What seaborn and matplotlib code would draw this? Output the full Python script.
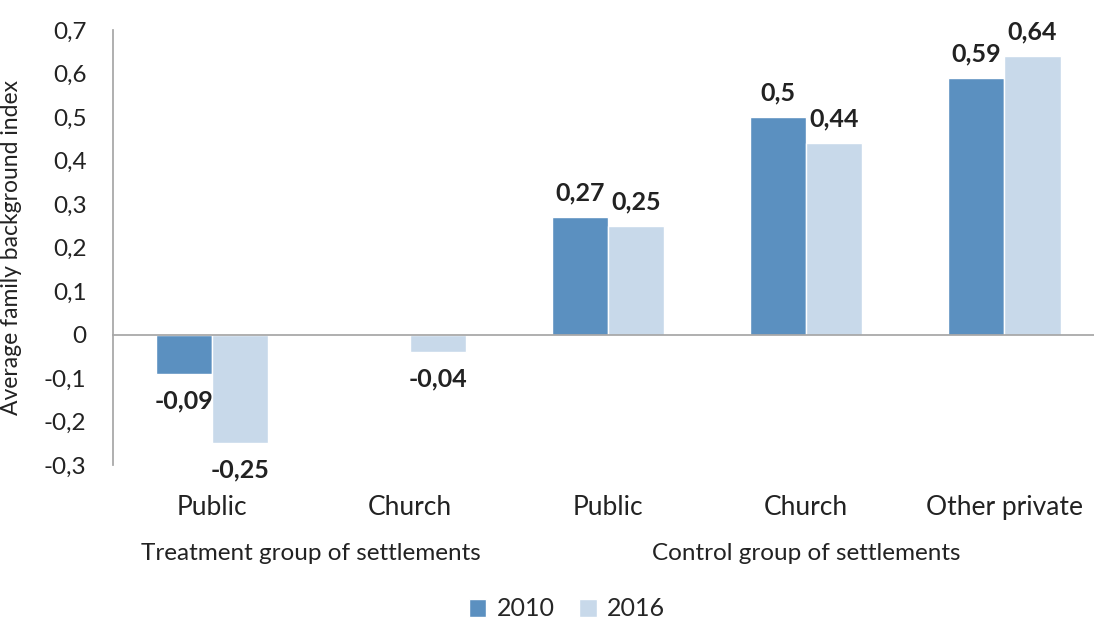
import numpy as np
import pandas as pd
import matplotlib
matplotlib.use("Agg")
import matplotlib.pyplot as plt
import seaborn as sns
from matplotlib.transforms import blended_transform_factory

# Data
categories = ["Public", "Church", "Public", "Church", "Other private"]
category_keys = ["T-Public", "T-Church", "C-Public", "C-Church", "C-Other"]
values_2010 = [-0.09, np.nan, 0.27, 0.50, 0.59]
values_2016 = [-0.25, -0.04, 0.25, 0.44, 0.64]
years = ["2010", "2016"]
group_labels = ["Treatment group of settlements", "Control group of settlements"]
y_ticks = [-0.3, -0.2, -0.1, 0, 0.1, 0.2, 0.3, 0.4, 0.5, 0.6, 0.7]

df = pd.DataFrame({
    "category": category_keys * 2,
    "year": [years[0]] * 5 + [years[1]] * 5,
    "value": values_2010 + values_2016,
})

sns.set_theme(style="white")
plt.rcParams["font.family"] = ["Lato", "DejaVu Sans"]

fig = plt.figure(figsize=(10.94, 6.2), dpi=100)
ax = fig.add_axes([0.1033, 0.25, 0.905, 0.7016])

palette = {"2010": "#5B90C0", "2016": "#C8D9EA"}
sns.barplot(data=df, x="category", y="value", hue="year", order=category_keys,
            hue_order=years, palette=palette, width=0.57, errorbar=None,
            saturation=1, ax=ax, legend=True)

def fmt(v):
    s = f"{v:.2f}".rstrip("0").rstrip(".")
    return s.replace(".", ",")

for cont in ax.containers:
    pos_labels, neg_labels = [], []
    for bar in cont:
        h = bar.get_height()
        if h is None or np.isnan(h):
            pos_labels.append("")
            neg_labels.append("")
        elif h >= 0:
            pos_labels.append(fmt(h))
            neg_labels.append("")
        else:
            pos_labels.append("")
            neg_labels.append(fmt(h))
    ax.bar_label(cont, labels=pos_labels, padding=9, fontsize=18,
                 fontweight="bold", color="#222222")
    ax.bar_label(cont, labels=neg_labels, padding=11, fontsize=18,
                 fontweight="bold", color="#222222")

# Axes styling
ax.set_ylim(-0.3, 0.7)
ax.set_yticks(y_ticks)
ax.set_yticklabels([fmt(t) if t != 0 else "0" for t in y_ticks], fontsize=17.5,
                   color="#222222")
ax.set_ylabel("Average family background index", fontsize=16.5, color="#222222")
ax.yaxis.set_label_coords(-0.092, 0.5)
ax.set_xlabel("")
ax.set_xlim(-0.5, len(categories) - 0.5)

spine_color = "#A6A6A6"
for side in ["top", "right"]:
    ax.spines[side].set_visible(False)
ax.spines["left"].set_color(spine_color)
ax.spines["bottom"].set_color(spine_color)
ax.spines["bottom"].set_position(("data", 0))
ax.tick_params(axis="y", which="major", direction="out", length=6,
               color=spine_color, width=1, pad=13)
ax.set_xticks(np.arange(-0.5, len(categories), 1.0))
ax.set_xticklabels([])
ax.tick_params(axis="x", which="major", direction="out", length=8,
               color=spine_color, width=1)

trans = blended_transform_factory(ax.transData, ax.transAxes)
for i, name in enumerate(categories):
    ax.text(i, -0.097, name, transform=trans, ha="center", va="center",
            fontsize=19, color="#222222")

ax.text(0.5, -0.203, group_labels[0], transform=trans, ha="center", va="center",
        fontsize=17.5, color="#222222")
ax.text(3.0, -0.203, group_labels[1], transform=trans, ha="center", va="center",
        fontsize=17.5, color="#222222")

# Legend
handles, labels = ax.get_legend_handles_labels()
ax.get_legend().remove()
fig.legend(handles, labels, loc="center", bbox_to_anchor=(567 / 1094, 1 - 609 / 620),
           ncol=2, frameon=False, fontsize=18, handlelength=0.7, handleheight=0.7,
           handletextpad=0.4, columnspacing=1.0)

fig.savefig("out.png", dpi=100)
